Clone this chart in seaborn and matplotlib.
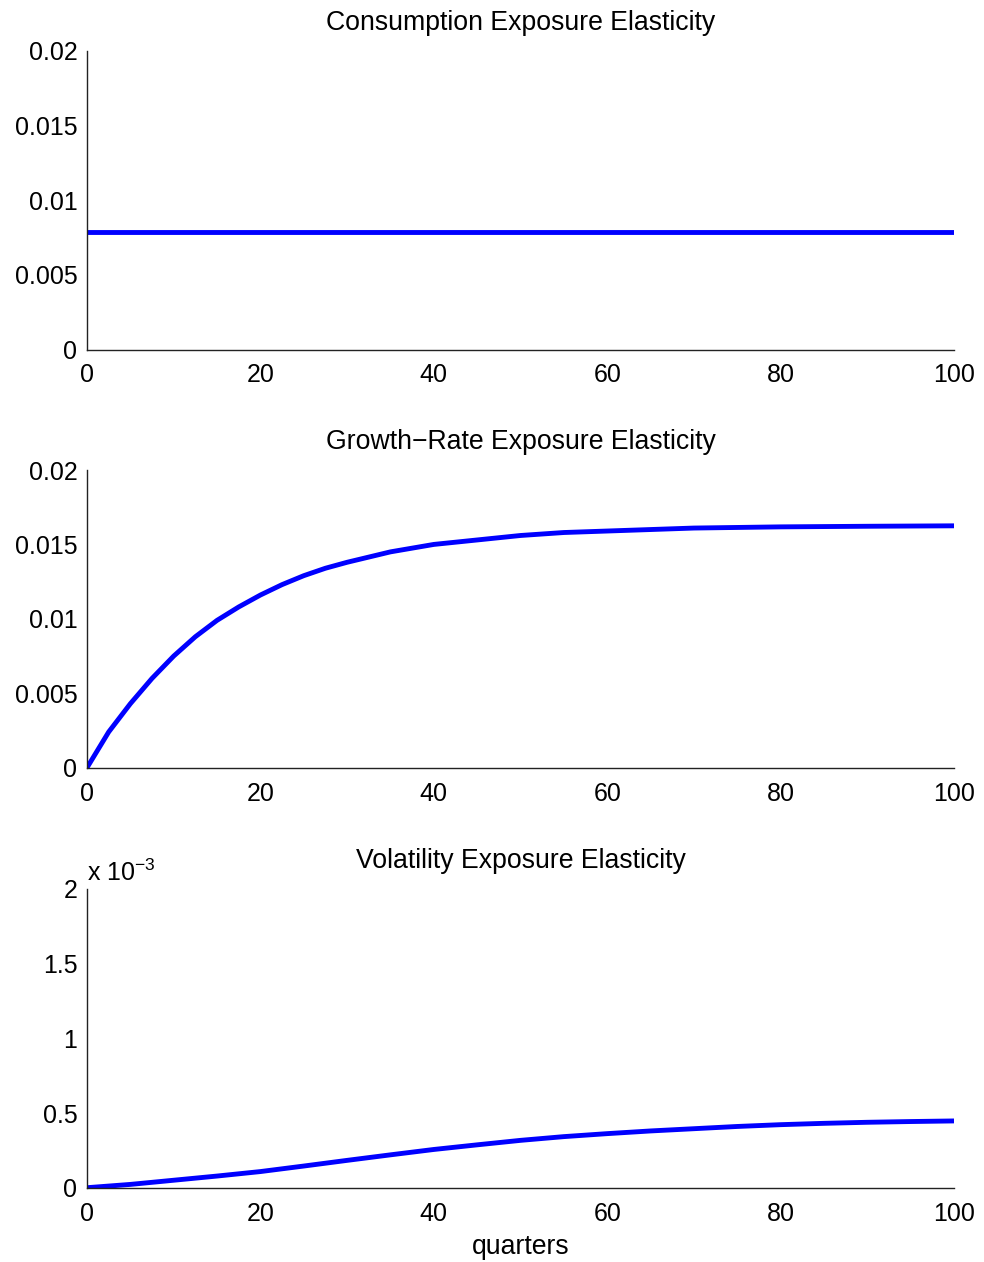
import matplotlib
matplotlib.use("Agg")
import matplotlib.pyplot as plt
from matplotlib.ticker import FuncFormatter
import seaborn as sns

# ---- data ----
cons_q = [0, 100]
cons_val = [0.0079, 0.0079]

growth_q = [0, 2.5, 5, 7.5, 10, 12.5, 15, 17.5, 20, 22.5, 25, 27.5, 30,
            35, 40, 45, 50, 55, 60, 70, 80, 90, 100]
growth_val = [0.0, 0.0024, 0.0043, 0.0060, 0.0075, 0.0088, 0.0099, 0.0108, 0.0116,
              0.0123, 0.0129, 0.0134, 0.0138, 0.0145, 0.0150, 0.0153, 0.0156,
              0.0158, 0.0159, 0.0161, 0.01618, 0.01622, 0.01625]

vol_q = [0, 5, 10, 15, 20, 25, 30, 35, 40, 45, 50, 55, 60, 65, 70, 75, 80, 85, 90, 95, 100]
vol_val = [0.0, 0.000022, 0.00005, 0.000078, 0.000108, 0.000145, 0.000183, 0.00022,
           0.000256, 0.000287, 0.000317, 0.000342, 0.000362, 0.00038, 0.000395,
           0.00041, 0.000422, 0.000431, 0.000438, 0.000443, 0.000447]

titles = ["Consumption Exposure Elasticity",
          "Growth\u2212Rate Exposure Elasticity",
          "Volatility Exposure Elasticity"]
x_ticks = [0, 20, 40, 60, 80, 100]
y_ticks_top = [0, 0.005, 0.01, 0.015, 0.02]
y_ticks_vol = [0, 0.0005, 0.001, 0.0015, 0.002]
xlabel = "quarters"

sns.set_theme(style="white")
plt.rcParams['font.family'] = ['Liberation Sans', 'DejaVu Sans']
plt.rcParams['mathtext.fontset'] = 'custom'
plt.rcParams['mathtext.rm'] = 'Liberation Sans'
plt.rcParams['mathtext.it'] = 'Liberation Sans'
plt.rcParams['axes.unicode_minus'] = True
plt.rcParams['text.color'] = 'black'
plt.rcParams['axes.labelcolor'] = 'black'
plt.rcParams['axes.titlecolor'] = 'black'

FS = 18
TFS = 19.2
fig = plt.figure(figsize=(9.84, 12.62), dpi=100)
L, W = 87/984, (954-87)/984
boxes = [(51, 349.5), (470, 767.7), (889, 1187.7)]
axes = []
for top, bot in boxes:
    ax = fig.add_axes([L, 1-bot/1262, W, (bot-top)/1262])
    axes.append(ax)

data = [(cons_q, cons_val), (growth_q, growth_val), (vol_q, vol_val)]
for i, (ax, (xq, yv)) in enumerate(zip(axes, data)):
    sns.lineplot(x=xq, y=yv, ax=ax, color=(0, 0, 1), linewidth=3.5, estimator=None,
                 sort=False)
    ax.set_xlim(0, 100)
    ax.set_xticks(x_ticks)
    ax.set_xticklabels([str(t) for t in x_ticks])
    if i < 2:
        ax.set_ylim(0, 0.02)
        ax.set_yticks(y_ticks_top)
        ax.yaxis.set_major_formatter(FuncFormatter(lambda v, p: "%g" % v))
    else:
        ax.set_ylim(0, 0.002)
        ax.set_yticks(y_ticks_vol)
        ax.yaxis.set_major_formatter(FuncFormatter(lambda v, p: "%g" % (v*1000)))
        ax.text(0.0, 1.01, "x 10$^{\u22123}$", transform=ax.transAxes,
                fontsize=FS, ha='left', va='bottom', color='black')
    ax.set_title(titles[i], fontsize=TFS, pad=15, color='black')
    for s in ['top', 'right']:
        ax.spines[s].set_visible(False)
    for s in ['left', 'bottom']:
        ax.spines[s].set_color('#222222')
        ax.spines[s].set_linewidth(1.0)
    ax.tick_params(direction='in', length=6, width=1.0, colors='#222222',
                   labelcolor='black', labelsize=FS)
    ax.tick_params(axis='x', pad=10)
    ax.tick_params(axis='y', pad=7)
    ax.set_facecolor('white')

axes[2].set_xlabel(xlabel, fontsize=TFS, labelpad=6, color='black')
fig.savefig("out.png", dpi=100, facecolor='white')
